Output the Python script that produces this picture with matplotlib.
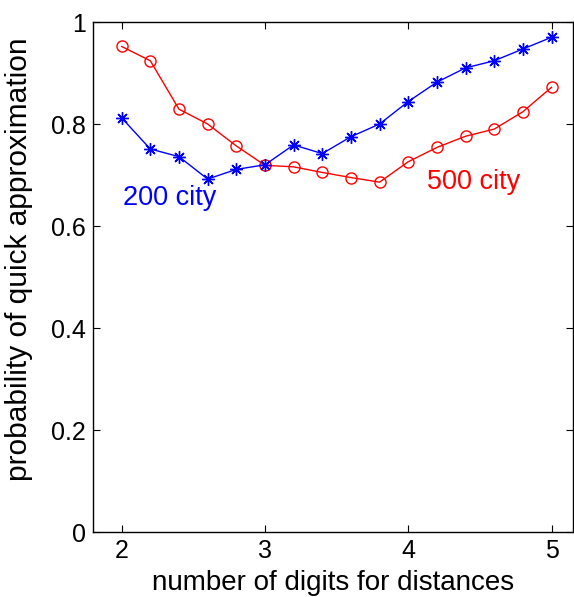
import matplotlib
matplotlib.use("Agg")
import matplotlib.pyplot as plt

digits = [2.0, 2.2, 2.4, 2.6, 2.8, 3.0, 3.2, 3.4, 3.6, 3.8, 4.0, 4.2, 4.4, 4.6, 4.8, 5.0]
city200 = [0.812, 0.751, 0.736, 0.692, 0.711, 0.720, 0.759, 0.742,
           0.775, 0.800, 0.844, 0.882, 0.910, 0.924, 0.947, 0.970]
city500 = [0.952, 0.924, 0.829, 0.800, 0.757, 0.719, 0.716, 0.705,
           0.695, 0.686, 0.726, 0.754, 0.776, 0.790, 0.824, 0.872]
xticks = [2, 3, 4, 5]
yticks = [0, 0.2, 0.4, 0.6, 0.8, 1]
ytick_labels = ["0", "0.2", "0.4", "0.6", "0.8", "1"]

plt.rcParams['font.family'] = ['Liberation Sans', 'DejaVu Sans']

fig = plt.figure(figsize=(5.74, 5.97), dpi=100)
ax = fig.add_axes([93 / 574, 1 - 532 / 597, 480 / 574, 510 / 597])

ax.plot(digits, city500, color='red', marker='o', markersize=8,
        markerfacecolor='none', markeredgewidth=1.0, linewidth=1.0)
# matlab style asterisk: + and x on top of each other
ax.plot(digits, city200, color='blue', marker=(8, 2, 0), markersize=9,
        markeredgewidth=1.0, linewidth=1.0)

ax.text(2.01, 0.655, "200 city", color='blue', fontsize=19.5, va='center')
ax.text(4.13, 0.686, "500 city", color='red', fontsize=19.5, va='center')

ax.set_xlim(1.8, 5.15)
ax.set_ylim(0, 1)
ax.set_xticks(xticks)
ax.set_yticks(yticks)
ax.set_yticklabels(ytick_labels)
ax.tick_params(direction='in', top=True, right=True, labelsize=18, length=5, pad=5)
for s in ax.spines.values():
    s.set_linewidth(1.0)

ax.set_xlabel("number of digits for distances", fontsize=20, labelpad=5)
ax.set_ylabel("probability of quick approximation", fontsize=21.5)
ax.yaxis.set_label_coords(-0.125, 0.535)

fig.savefig("out.png", dpi=100)
